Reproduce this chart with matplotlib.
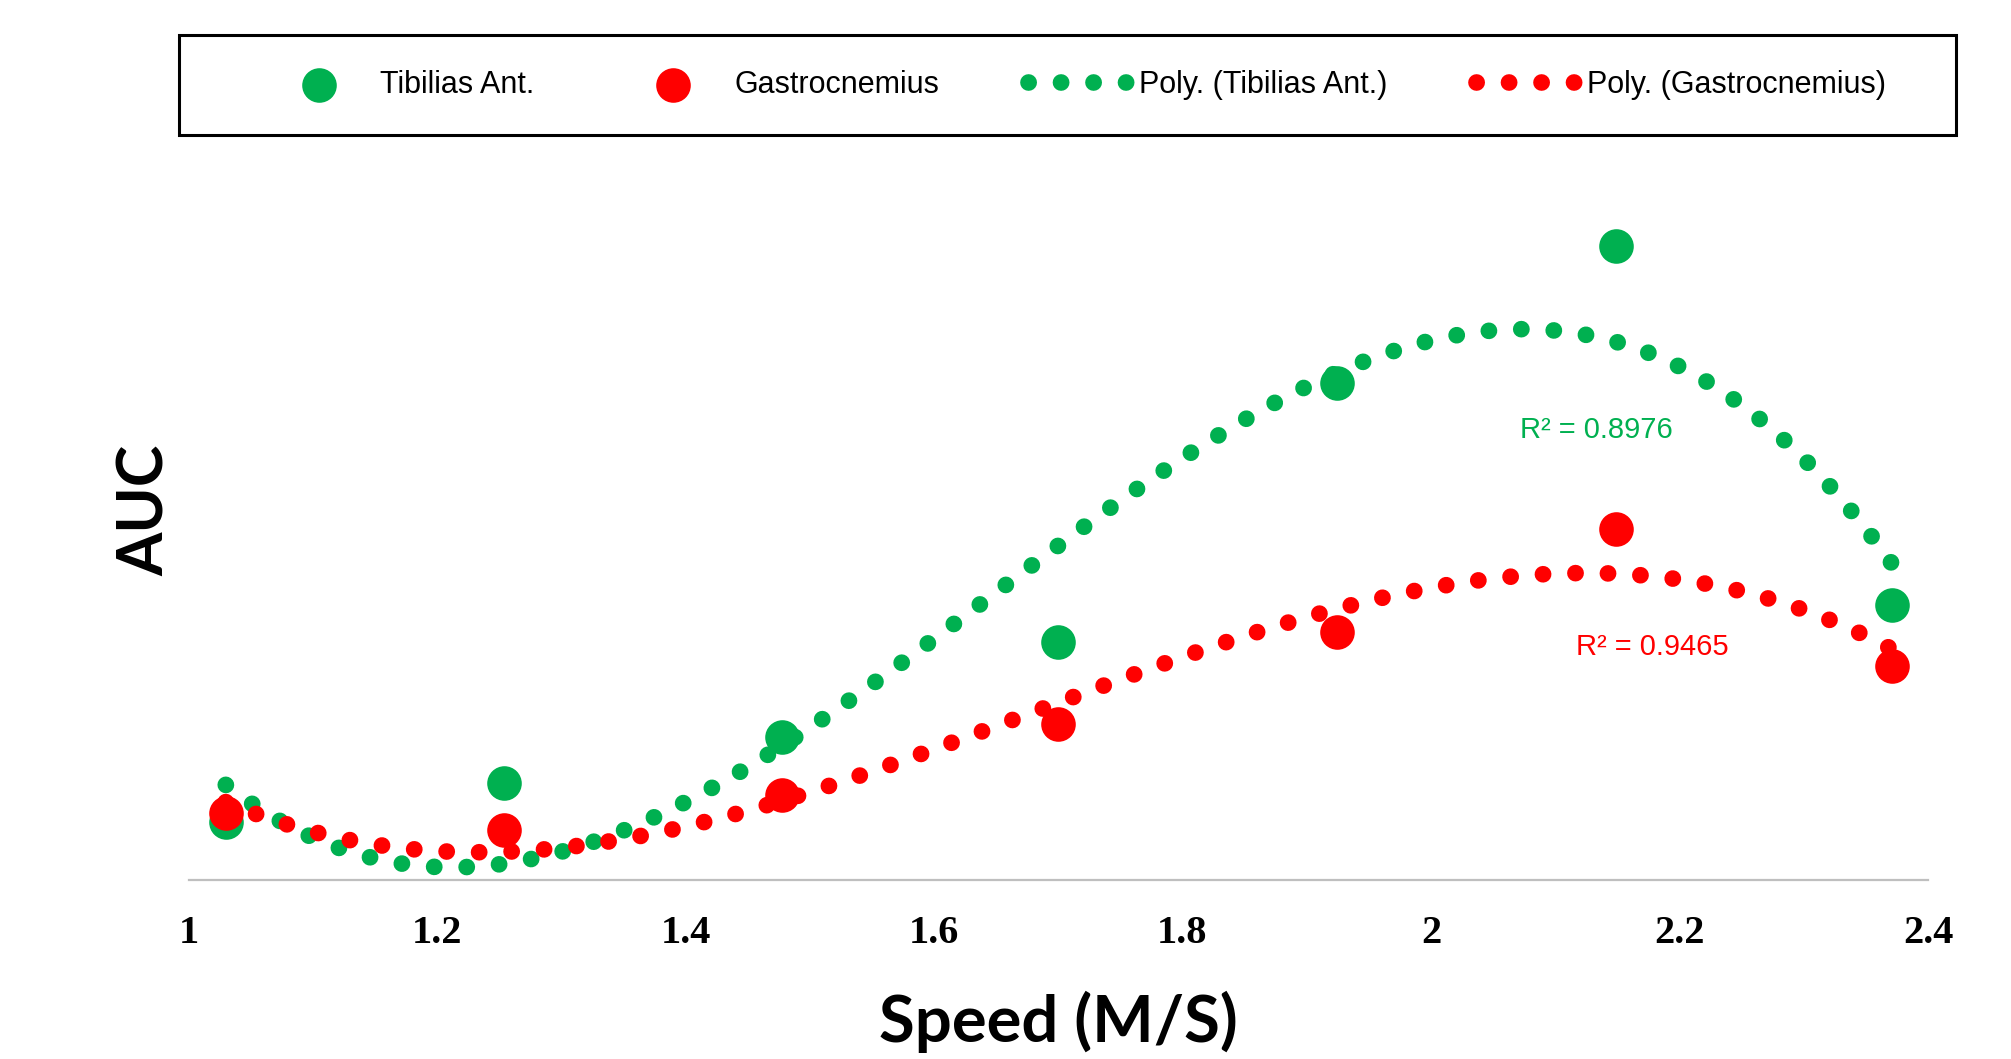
import numpy as np
import matplotlib
matplotlib.use("Agg")
import matplotlib.pyplot as plt
from matplotlib.patches import Rectangle

# Speed (M/S) and AUC (arbitrary units, no y ticks on the original)
speed = np.array([1.03, 1.254, 1.478, 1.70, 1.924, 2.149, 2.371])
auc_tibialis = np.array([0.58, 0.97, 1.43, 2.38, 4.97, 6.34, 2.75])
auc_gastro = np.array([0.67, 0.50, 0.85, 1.56, 2.48, 3.51, 2.14])

r2_tibialis = "R² = 0.8976"
r2_gastro = "R² = 0.9465"

green = "#00b050"
red = "#ff0000"
sans = ["Liberation Sans", "DejaVu Sans"]

fig = plt.figure(figsize=(20.11, 10.59), dpi=100)
ax = fig.add_axes([188.5/2011, 1 - 880/1059, 1739.5/2011, 705/1059])

sc1 = ax.scatter(speed, auc_tibialis, s=620, color=green, lw=0, zorder=2,
                 label="Tibilias Ant.")
sc2 = ax.scatter(speed, auc_gastro, s=620, color=red, lw=0, zorder=3,
                 label="Gastrocnemius")

# polynomial trendlines (order 3), like the spreadsheet trendline
xx = np.linspace(speed.min(), speed.max(), 400)
dots = (0, (0.01, 1.94))
p1 = np.polyfit(speed, auc_tibialis, 3)
p2 = np.polyfit(speed, auc_gastro, 3)
ln1, = ax.plot(xx, np.polyval(p1, xx), color=green, lw=12, ls=dots,
               dash_capstyle="round", zorder=4, label="Poly. (Tibilias Ant.)")
ln2, = ax.plot(xx, np.polyval(p2, xx), color=red, lw=12, ls=dots,
               dash_capstyle="round", zorder=5, label="Poly. (Gastrocnemius)")

ax.text(2.133, 4.42, r2_tibialis, color=green, fontsize=21, family=sans,
        ha="center", va="baseline")
ax.text(2.178, 2.25, r2_gastro, color=red, fontsize=21, family=sans,
        ha="center", va="baseline")

ax.set_xlim(1, 2.4)
ax.set_ylim(0, 7.05)
ax.set_xticks([1, 1.2, 1.4, 1.6, 1.8, 2, 2.2, 2.4])
ax.set_xticklabels(["1", "1.2", "1.4", "1.6", "1.8", "2", "2.2", "2.4"],
                   family="Liberation Serif", fontweight="bold", fontsize=29)
ax.set_yticks([])
ax.tick_params(axis="x", length=0, pad=25)
for s in ["top", "left", "right"]:
    ax.spines[s].set_visible(False)
ax.spines["bottom"].set_color("#bfbfbf")
ax.spines["bottom"].set_linewidth(1.6)

fig.text(1058/2011, 1 - 1022/1059, "Speed (M/S)", family="Lato",
         fontweight="bold", fontsize=47, ha="center", va="center")
fig.text(146/2011, 1 - 510/1059, "AUC", family="Lato", fontweight="bold",
         fontsize=45, rotation=90, ha="center", va="center")

# legend inside a separate black frame at the top
fig.add_artist(Rectangle((179/2011, 1 - 135/1059), 1777/2011, 100/1059,
                         transform=fig.transFigure, fill=False,
                         ec="black", lw=2.2))
fig.legend(handles=[sc1, sc2, ln1, ln2], loc="center left",
           bbox_to_anchor=(269/2011, 1 - 85/1059),
           bbox_transform=fig.transFigure, ncol=4, frameon=False,
           prop={"family": sans, "size": 22}, handlelength=3.24,
           handletextpad=0.4, columnspacing=2.9, borderpad=0,
           borderaxespad=0)

fig.savefig("out.png", dpi=100, facecolor="white")
